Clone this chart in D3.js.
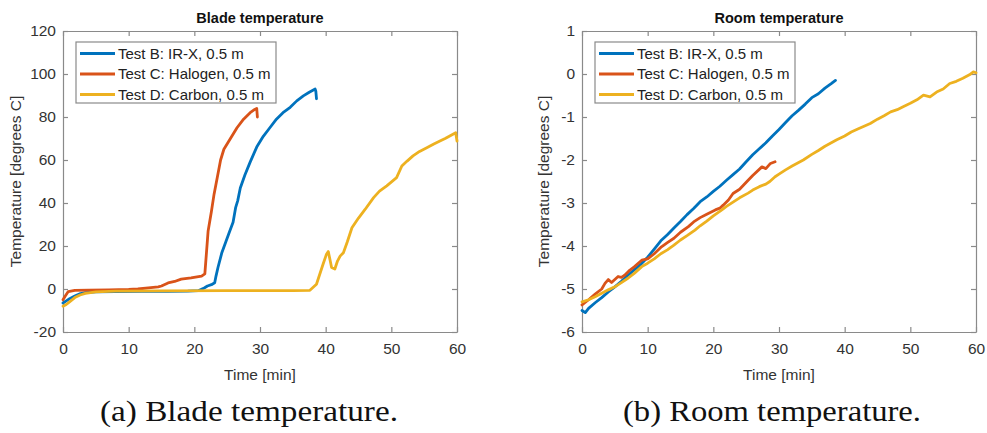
<!DOCTYPE html>
<html>
<head>
<meta charset="utf-8">
<script src="https://cdn.jsdelivr.net/npm/d3@7"></script>
<style>
  body { margin: 0; background: #fff; }
  svg { display: block; }
</style>
</head>
<body>
<div id="chart"></div>
<script>
// ---- data ----
const seriesNames = ["Test B: IR-X, 0.5 m", "Test C: Halogen, 0.5 m", "Test D: Carbon, 0.5 m"];
const seriesColors = ["#0072bd", "#d95319", "#edb120"];

const timeTicks = [0, 10, 20, 30, 40, 50, 60];
const bladeTicks = [-20, 0, 20, 40, 60, 80, 100, 120];
const roomTicks = [-6, -5, -4, -3, -2, -1, 0, 1];

// blade temperature, [time min, degrees C]
const bladeB = [[0,-6.5],[0.5,-5.5],[1,-4.5],[1.8,-3.3],[2.5,-2.3],[3.4,-1.7],[5,-1.3],[8,-1.2],[12,-1.1],[16,-1.1],[19,-1],[20.6,-0.8],[21.5,0.5],[22,1.4],[22.6,2],[23.1,2.9],[23.3,6],[23.6,10],[24.2,17],[24.8,22],[25.4,27],[25.9,31],[26.3,38],[26.6,41],[27,47],[27.7,53],[28.5,59],[29.5,66],[30.5,71],[31.5,75],[32.5,79],[33.5,82],[34.6,84.5],[35.6,87.5],[36.6,89.8],[37.5,91.5],[38.4,93],[38.5,92],[38.6,88.5]];
const bladeC = [[0,-5],[0.3,-3.5],[0.8,-1.2],[1.8,-0.6],[4,-0.5],[7,-0.4],[10,-0.2],[11.4,0],[13,0.5],[14.5,1],[15,1.4],[16,2.8],[17,3.5],[18,4.6],[19.5,5.2],[21.1,6],[21.6,7],[21.9,19],[22.1,27],[22.6,36],[23,44],[23.5,52],[24,60],[24.5,65],[25.5,70],[26.5,75],[27.5,79],[28.5,82],[29.2,83.5],[29.5,84],[29.6,80]];
const bladeD = [[0,-8],[0.5,-7.2],[1,-6],[1.8,-4],[2.6,-2.8],[3.4,-2],[5,-1.3],[8,-1],[15,-0.9],[25,-0.8],[35,-0.8],[37.6,-0.6],[38.6,2.2],[39.6,11.5],[40.1,16],[40.4,17.4],[40.7,13],[40.9,10],[41.4,9.3],[41.8,13],[42.2,15.3],[42.7,16.9],[43.3,22],[44,28.5],[45,33],[46,37],[47.3,42.5],[48.2,45.5],[49.3,48],[50.8,51.8],[51.6,57.2],[52.4,59.5],[53.3,61.9],[54.3,64],[55.4,65.7],[56.4,67.3],[57.4,68.8],[58.2,70],[58.9,71.2],[59.8,72.7],[60,68.8]];

// room temperature, [time min, degrees C]
const roomB = [[0,-5.5],[0.5,-5.55],[1,-5.45],[2,-5.32],[3,-5.2],[4,-5.07],[5,-4.95],[6,-4.82],[7,-4.68],[8,-4.55],[9,-4.42],[10,-4.26],[11,-4.07],[12,-3.88],[13,-3.74],[14,-3.58],[15,-3.43],[16,-3.27],[17,-3.13],[18,-2.97],[19,-2.86],[20,-2.73],[21,-2.61],[22,-2.47],[23,-2.34],[24,-2.21],[25,-2.04],[26,-1.88],[27,-1.74],[28,-1.6],[29,-1.44],[30,-1.29],[31,-1.13],[32,-0.97],[33,-0.84],[34,-0.7],[35,-0.55],[36,-0.46],[37,-0.33],[38,-0.22],[38.6,-0.15]];
const roomC = [[0,-5.37],[1,-5.25],[2,-5.12],[3,-5.0],[3.5,-4.87],[4,-4.78],[4.5,-4.85],[5,-4.78],[5.5,-4.71],[6,-4.73],[6.5,-4.68],[7.3,-4.56],[8,-4.48],[9.1,-4.33],[10,-4.3],[11,-4.18],[12.1,-4.02],[13,-3.92],[14,-3.82],[15,-3.68],[16.2,-3.55],[17,-3.44],[18,-3.34],[19,-3.26],[20.3,-3.16],[21,-3.12],[21.5,-3.05],[22.3,-2.93],[23,-2.78],[24,-2.68],[25.3,-2.47],[26,-2.36],[27.4,-2.16],[28,-2.2],[28.7,-2.08],[29.4,-2.04]];
const roomD = [[0,-5.3],[1,-5.25],[2,-5.18],[3,-5.1],[4,-5.02],[5,-4.95],[6,-4.85],[7,-4.75],[8,-4.63],[9.1,-4.48],[10,-4.4],[11,-4.3],[12,-4.18],[13,-4.09],[14,-3.98],[15,-3.86],[16,-3.76],[17.2,-3.63],[18,-3.53],[19,-3.42],[20,-3.3],[21.3,-3.16],[22,-3.08],[23,-2.98],[24,-2.88],[25.3,-2.77],[26,-2.7],[27,-2.62],[28,-2.56],[28.6,-2.5],[29.4,-2.39],[30,-2.33],[31,-2.23],[32,-2.14],[33.7,-2.0],[35,-1.87],[36,-1.78],[37,-1.68],[38.8,-1.53],[40,-1.44],[41,-1.35],[42,-1.28],[43.9,-1.15],[45,-1.05],[46,-0.97],[47,-0.88],[48,-0.83],[48.9,-0.76],[50,-0.68],[51,-0.6],[52,-0.49],[53,-0.53],[54,-0.42],[55,-0.35],[56,-0.22],[57,-0.17],[58,-0.1],[59,-0.02],[59.6,0.05],[60,0.03]];

const width = 987;
const height = 433;
const sansFont = "'Liberation Sans', Arial, sans-serif";
const axisGray = "#8a8a8a";
const textColor = "#333";

const svg = d3
  .select("#chart")
  .append("svg")
  .attr("width", width)
  .attr("height", height);

function drawPanel(opts) {
  const xScale = d3.scaleLinear().domain([0, 60]).range([opts.left, opts.right]);
  const yScale = d3.scaleLinear().domain(opts.yDomain).range([opts.bottom, opts.top]);

  const g = svg.append("g");

  // box ticks (top and right, no labels)
  const topAxis = g.append("g")
    .attr("transform", `translate(0,${opts.top})`)
    .call(d3.axisTop(xScale).tickValues(timeTicks).tickSize(-5).tickSizeOuter(0).tickFormat(""));
  const rightAxis = g.append("g")
    .attr("transform", `translate(${opts.right},0)`)
    .call(d3.axisRight(yScale).tickValues(opts.yTicks).tickSize(-5).tickSizeOuter(0).tickFormat(""));

  const xAxis = g.append("g")
    .attr("transform", `translate(0,${opts.bottom})`)
    .call(d3.axisBottom(xScale).tickValues(timeTicks).tickSize(-5).tickSizeOuter(0).tickPadding(11).tickFormat((d) => String(d)));
  const yAxis = g.append("g")
    .attr("transform", `translate(${opts.left},0)`)
    .call(d3.axisLeft(yScale).tickValues(opts.yTicks).tickSize(-5).tickSizeOuter(0).tickPadding(7).tickFormat((d) => String(d)));

  [topAxis, rightAxis, xAxis, yAxis].forEach((a) => {
    a.select(".domain").attr("stroke", axisGray).attr("stroke-width", 1.2);
    a.selectAll(".tick line").attr("stroke", axisGray).attr("stroke-width", 1.2);
    a.selectAll(".tick text")
      .attr("fill", textColor)
      .style("font-family", sansFont)
      .style("font-size", "15.5px");
  });

  // lines
  const line = d3.line().x((d) => xScale(d[0])).y((d) => yScale(d[1]));
  opts.series.forEach((s, i) => {
    g.append("path")
      .datum(s)
      .attr("fill", "none")
      .attr("stroke", seriesColors[i])
      .attr("stroke-width", 2.8)
      .attr("stroke-linejoin", "round")
      .attr("stroke-linecap", "round")
      .attr("d", line);
  });

  const midX = (opts.left + opts.right) / 2;

  // title
  g.append("text")
    .attr("x", midX)
    .attr("y", 23)
    .attr("text-anchor", "middle")
    .attr("fill", "#111")
    .style("font-family", sansFont)
    .style("font-size", "14.5px")
    .style("font-weight", "bold")
    .text(opts.title);

  // axis labels
  g.append("text")
    .attr("x", midX)
    .attr("y", 380)
    .attr("text-anchor", "middle")
    .attr("fill", textColor)
    .style("font-family", sansFont)
    .style("font-size", "15.5px")
    .text("Time [min]");

  g.append("text")
    .attr("transform", `translate(${opts.yLabelX},${(opts.top + opts.bottom) / 2}) rotate(-90)`)
    .attr("text-anchor", "middle")
    .attr("fill", textColor)
    .style("font-family", sansFont)
    .style("font-size", "15.5px")
    .text("Temperature [degrees C]");

  // legend
  const lg = g.append("g").attr("transform", `translate(${opts.left + 13},42)`);
  lg.append("rect")
    .attr("width", 200)
    .attr("height", 61)
    .attr("fill", "#fff")
    .attr("stroke", axisGray)
    .attr("stroke-width", 1.2);
  seriesNames.forEach((name, i) => {
    const yy = 11.5 + i * 20.5;
    lg.append("line")
      .attr("x1", 4).attr("x2", 39)
      .attr("y1", yy).attr("y2", yy)
      .attr("stroke", seriesColors[i])
      .attr("stroke-width", 2.8);
    lg.append("text")
      .attr("x", 42)
      .attr("y", yy + 5.3)
      .attr("fill", "#222")
      .style("font-family", sansFont)
      .style("font-size", "15px")
      .text(name);
  });

  // caption
  svg.append("text")
    .attr("x", opts.captionX)
    .attr("y", 421)
    .attr("text-anchor", "middle")
    .attr("fill", "#111")
    .attr("textLength", 298)
    .attr("lengthAdjust", "spacingAndGlyphs")
    .style("font-family", "'Liberation Serif', 'Times New Roman', serif")
    .style("font-size", "29px")
    .text(opts.caption);
}

drawPanel({
  left: 63, right: 457, top: 31, bottom: 332,
  yDomain: [-20, 120], yTicks: bladeTicks,
  series: [bladeB, bladeC, bladeD],
  title: "Blade temperature",
  yLabelX: 21,
  caption: "(a) Blade temperature.",
  captionX: 249,
});

drawPanel({
  left: 582, right: 976, top: 31, bottom: 332,
  yDomain: [-6, 1], yTicks: roomTicks,
  series: [roomB, roomC, roomD],
  title: "Room temperature",
  yLabelX: 549,
  caption: "(b) Room temperature.",
  captionX: 772,
});
</script>
</body>
</html>
